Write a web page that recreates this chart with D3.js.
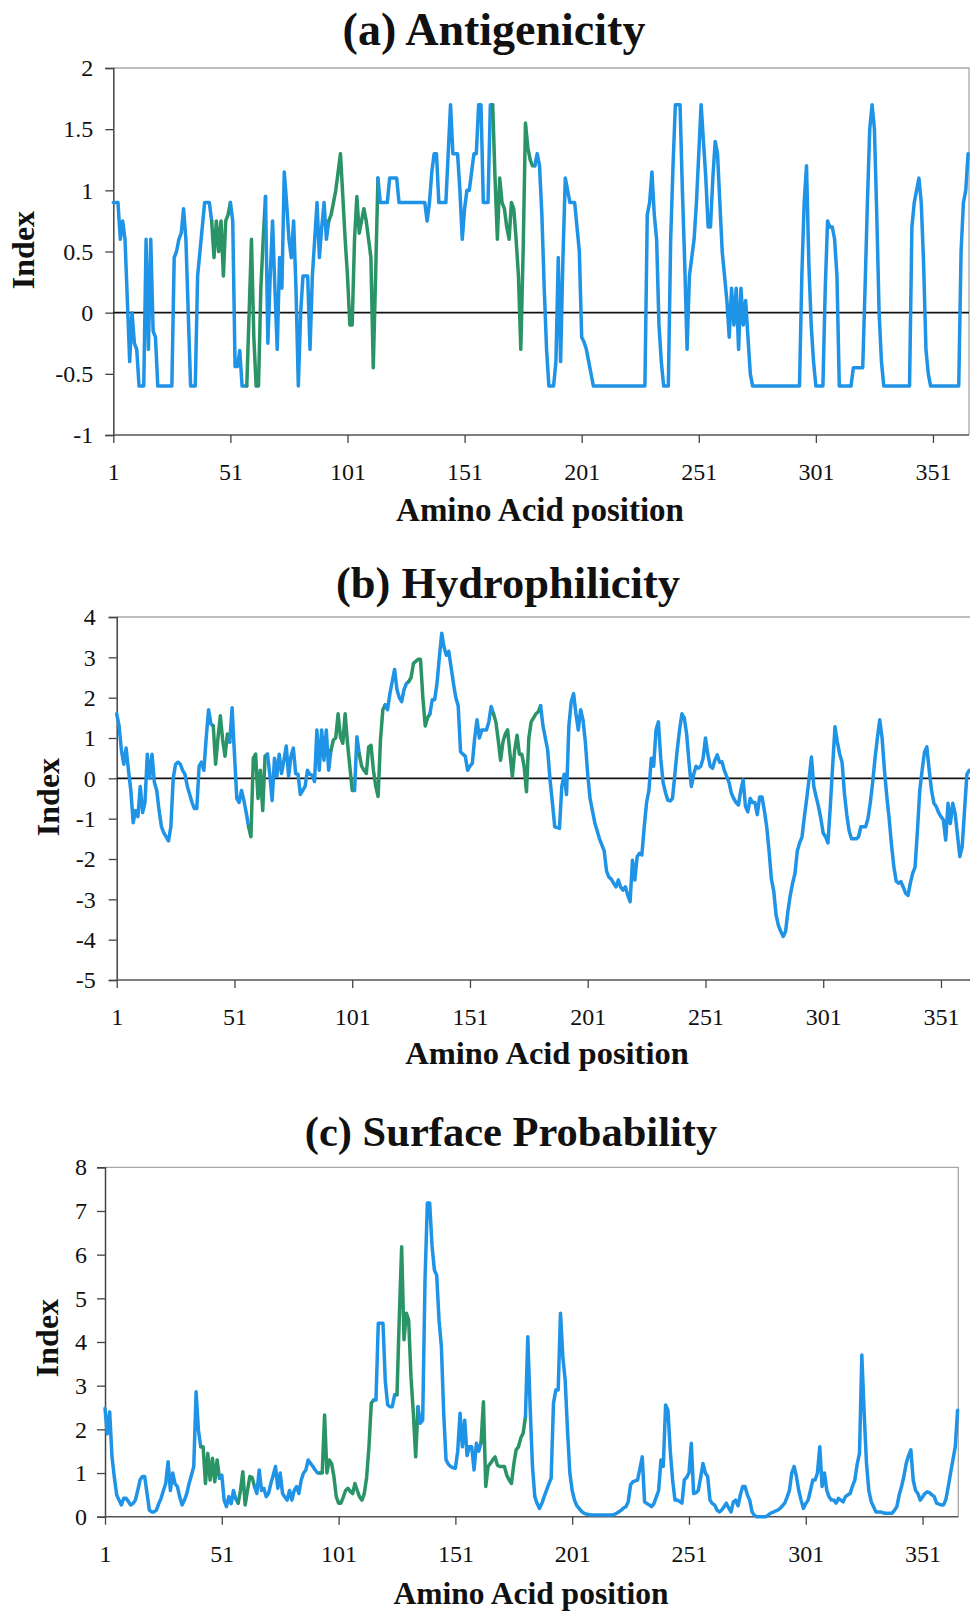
<!DOCTYPE html>
<html>
<head>
<meta charset="utf-8">
<script src="https://cdn.jsdelivr.net/npm/d3@7"></script>
<style>
  html, body { margin: 0; padding: 0; background: #fff; }
  svg { display: block; }
  text { font-family: "Liberation Serif", "Times New Roman", serif; fill: #111; }
</style>
</head>
<body>
<svg id="fig" width="970" height="1611"></svg>
<script>
// Tick values shared by the three profiles
const positionTicks = [1, 51, 101, 151, 201, 251, 301, 351];
const antigenicityTicks = [-1, -0.5, 0, 0.5, 1, 1.5, 2];
const hydrophilicityTicks = [-5, -4, -3, -2, -1, 0, 1, 2, 3, 4];
const surfaceTicks = [0, 1, 2, 3, 4, 5, 6, 7, 8];

// Antigenicity index, residues 1..366
const antigenicity = [
  0.9, 0.9, 0.9, 0.6, 0.75, 0.6, 0.1, -0.4, 0.0, -0.25,
  -0.3, -0.6, -0.6, -0.6, 0.6, -0.3, 0.6, -0.15, -0.2, -0.6,
  -0.6, -0.6, -0.6, -0.6, -0.6, -0.6, 0.45, 0.5, 0.6, 0.65,
  0.85, 0.6, 0.0, -0.6, -0.6, -0.6, 0.3, 0.5, 0.7, 0.9,
  0.9, 0.9, 0.75, 0.45, 0.75, 0.5, 0.75, 0.3, 0.75, 0.8,
  0.9, 0.75, -0.44, -0.44, -0.31, -0.6, -0.6, -0.6, 0.0, 0.6,
  -0.2, -0.6, -0.6, 0.2, 0.6, 0.95, -0.25, 0.3, 0.75, 0.2,
  -0.3, 0.45, 0.2, 1.15, 0.9, 0.6, 0.45, 0.75, 0.2, -0.6,
  0.0, 0.3, 0.3, 0.3, -0.3, 0.3, 0.6, 0.9, 0.45, 0.7,
  0.9, 0.6, 0.75, 0.8, 0.9, 1.0, 1.15, 1.3, 0.95, 0.6,
  0.3, -0.1, -0.1, 0.6, 0.95, 0.65, 0.75, 0.85, 0.75, 0.6,
  0.45, -0.45, 0.3, 1.1, 0.9, 0.9, 0.9, 0.9, 1.1, 1.1,
  1.1, 1.1, 0.9, 0.9, 0.9, 0.9, 0.9, 0.9, 0.9, 0.9,
  0.9, 0.9, 0.9, 0.9, 0.75, 0.9, 1.15, 1.3, 1.3, 0.9,
  0.9, 0.9, 0.9, 1.3, 1.7, 1.3, 1.3, 1.3, 1.0, 0.6,
  0.85, 1.0, 1.0, 1.15, 1.3, 1.3, 1.7, 1.7, 0.9, 0.9,
  0.9, 1.7, 1.7, 1.1, 0.6, 1.1, 0.9, 0.85, 0.7, 0.6,
  0.9, 0.85, 0.6, 0.3, -0.3, 0.5, 1.55, 1.35, 1.25, 1.2,
  1.2, 1.3, 1.2, 0.8, 0.2, -0.3, -0.6, -0.6, -0.6, -0.4,
  0.45, -0.4, 0.45, 1.1, 1.0, 0.9, 0.9, 0.9, 0.7, 0.5,
  -0.2, -0.24, -0.3, -0.4, -0.5, -0.6, -0.6, -0.6, -0.6, -0.6,
  -0.6, -0.6, -0.6, -0.6, -0.6, -0.6, -0.6, -0.6, -0.6, -0.6,
  -0.6, -0.6, -0.6, -0.6, -0.6, -0.6, -0.6, -0.6, 0.8, 0.9,
  1.15, 0.8, 0.6, -0.1, -0.4, -0.6, -0.6, -0.6, 0.6, 1.2,
  1.7, 1.7, 1.7, 1.0, 0.4, -0.3, 0.3, 0.45, 0.6, 0.9,
  1.3, 1.7, 1.4, 1.1, 0.7, 0.7, 1.1, 1.4, 1.3, 0.9,
  0.5, 0.3, 0.1, -0.2, 0.2, -0.1, 0.2, -0.3, 0.2, -0.1,
  0.1, -0.2, -0.5, -0.6, -0.6, -0.6, -0.6, -0.6, -0.6, -0.6,
  -0.6, -0.6, -0.6, -0.6, -0.6, -0.6, -0.6, -0.6, -0.6, -0.6,
  -0.6, -0.6, -0.6, -0.6, 0.3, 0.9, 1.2, 0.4, -0.1, -0.4,
  -0.6, -0.6, -0.6, -0.6, 0.2, 0.75, 0.7, 0.7, 0.6, 0.3,
  -0.6, -0.6, -0.6, -0.6, -0.6, -0.6, -0.45, -0.45, -0.45, -0.45,
  -0.45, 0.2, 0.9, 1.5, 1.7, 1.5, 0.8, 0.0, -0.4, -0.6,
  -0.6, -0.6, -0.6, -0.6, -0.6, -0.6, -0.6, -0.6, -0.6, -0.6,
  -0.6, 0.7, 0.9, 1.0, 1.1, 0.9, 0.4, -0.3, -0.5, -0.6,
  -0.6, -0.6, -0.6, -0.6, -0.6, -0.6, -0.6, -0.6, -0.6, -0.6,
  -0.6, -0.6, 0.5, 0.9, 1.0, 1.3
];
const antigenicityEpitopes = [[43, 51], [58, 66], [93, 114], [163, 181]];

// Hydrophilicity index, residues 1..363
const hydrophilicity = [
  1.6, 1.3, 0.7, 0.35, 0.75, 0.2, -0.3, -1.1, -0.8, -0.95,
  -0.2, -0.85, -0.6, 0.6, 0.0, 0.6, -0.1, -0.3, -0.8, -1.2,
  -1.35, -1.45, -1.55, -1.2, 0.0, 0.35, 0.4, 0.35, 0.2, 0.1,
  -0.2, -0.4, -0.6, -0.75, -0.75, 0.3, 0.4, 0.2, 1.0, 1.7,
  1.35, 1.3, 0.35, 1.0, 1.55, 0.95, 0.55, 1.1, 0.9, 1.75,
  0.6, -0.5, -0.6, -0.3, -0.55, -0.85, -1.2, -1.45, 0.5, 0.6,
  -0.5, 0.2, -0.8, 0.55, 0.6, 0.1, -0.55, 0.5, 0.05, 0.6,
  0.12, 0.45, 0.8, 0.05, 0.55, 0.75, 0.12, 0.1, -0.4, -0.3,
  -0.2, 0.2, 0.1, 0.08, -0.08, 1.2, 0.2, 1.2, 0.45, 1.2,
  0.2, 0.7, 0.95, 1.0, 1.6, 1.03, 0.87, 1.6, 0.87, 0.29,
  -0.3, -0.3, 1.03, 0.6, 0.3, 0.2, 0.12, 0.78, 0.82, 0.2,
  -0.2, -0.45, 0.95, 1.7, 1.82, 1.7, 2.1, 2.4, 2.7, 2.2,
  2.0, 1.9, 2.2, 2.35, 2.4, 2.5, 2.85, 2.9, 2.95, 2.95,
  2.0, 1.3, 1.5, 1.6, 1.95, 1.95, 2.35, 3.0, 3.6, 3.25,
  3.05, 3.15, 2.75, 2.35, 2.0, 1.8, 0.66, 0.6, 0.55, 0.2,
  0.3, 0.37, 1.0, 1.45, 1.0, 1.2, 1.2, 1.2, 1.4, 1.78,
  1.6, 1.4, 0.95, 0.45, 0.9, 1.1, 1.2, 0.6, 0.04, 0.7,
  1.07, 0.6, 0.6, 0.3, -0.33, 1.0, 1.4, 1.5, 1.6, 1.65,
  1.8, 1.3, 1.0, 0.7, -0.04, -0.6, -1.2, -1.22, -1.24, -0.2,
  0.1, -0.4, 1.3, 1.9, 2.1, 1.6, 1.2, 1.7, 1.45, 0.9,
  0.1, -0.5, -0.8, -1.1, -1.3, -1.5, -1.65, -1.8, -2.3, -2.45,
  -2.5, -2.6, -2.69, -2.52, -2.7, -2.77, -2.69, -2.9, -3.06, -2.03,
  -2.52, -1.94, -1.86, -1.9, -1.2, -0.6, -0.3, 0.5, 0.3, 1.2,
  1.4, 0.5, -0.1, -0.35, -0.54, -0.56, -0.5, 0.1, 0.7, 1.2,
  1.6, 1.5, 1.1, 0.4, -0.2, 0.1, 0.3, 0.25, 0.3, 0.5,
  1.0, 0.6, 0.3, 0.25, 0.45, 0.58, 0.4, 0.41, 0.2, 0.05,
  -0.1, -0.37, -0.5, -0.6, -0.66, -0.3, -0.04, -0.7, -0.83, -0.5,
  -0.6, -0.6, -0.9, -0.46, -0.46, -0.8, -1.2, -1.8, -2.5, -2.8,
  -3.4, -3.65, -3.8, -3.92, -3.8, -3.3, -2.9, -2.6, -2.36, -1.8,
  -1.6, -1.45, -0.95, -0.5, 0.0, 0.53, -0.2, -0.46, -0.7, -1.0,
  -1.36, -1.45, -1.6, -0.7, 0.3, 1.28, 0.9, 0.6, 0.4, -0.37,
  -0.9, -1.3, -1.5, -1.5, -1.5, -1.45, -1.2, -1.2, -1.2, -1.0,
  -0.6, -0.1, 0.5, 1.0, 1.45, 1.0, 0.2, -0.45, -1.0, -1.65,
  -2.2, -2.55, -2.6, -2.56, -2.7, -2.85, -2.9, -2.6, -2.35, -2.2,
  -1.3, -0.3, 0.2, 0.65, 0.78, 0.2, -0.3, -0.62, -0.7, -0.85,
  -0.95, -1.03, -1.53, -0.62, -1.12, -0.62, -0.87, -1.4, -1.94, -1.7,
  -0.8, 0.1, 0.2
];
const hydrophilicityEpitopes = [[42, 49], [57, 65], [92, 102], [104, 115], [125, 134], [161, 181]];

// Surface probability index, residues 1..366
const surface = [
  2.48, 1.9, 2.4, 1.37, 0.9, 0.5, 0.38, 0.27, 0.42, 0.42,
  0.35, 0.27, 0.3, 0.38, 0.6, 0.84, 0.92, 0.92, 0.53, 0.15,
  0.11, 0.11, 0.15, 0.3, 0.42, 0.6, 0.76, 1.26, 0.6, 1.0,
  0.75, 0.69, 0.45, 0.27, 0.38, 0.53, 0.76, 0.95, 1.15, 2.86,
  1.98, 1.6, 1.6, 0.76, 1.45, 0.84, 1.34, 0.8, 1.3, 0.88,
  0.95, 0.38, 0.23, 0.46, 0.3, 0.6, 0.4, 0.31, 0.6, 1.03,
  0.27, 0.6, 0.92, 0.9, 0.69, 0.53, 1.07, 0.6, 0.65, 0.46,
  0.53, 0.76, 0.95, 1.15, 0.65, 1.0, 0.53, 0.45, 0.38, 0.6,
  0.38, 0.6, 0.69, 0.53, 0.84, 1.0, 1.07, 1.3, 1.22, 1.15,
  1.07, 1.0, 1.0, 1.0, 2.33, 1.0, 1.3, 1.22, 0.92, 0.46,
  0.31, 0.31, 0.45, 0.6, 0.65, 0.58, 0.53, 0.76, 0.6, 0.45,
  0.38, 0.53, 0.9, 1.6, 2.6, 2.67, 2.67, 4.43, 4.43, 4.43,
  3.1, 2.56, 2.52, 2.52, 2.79, 2.79, 4.58, 6.18, 4.05, 4.66,
  4.5, 3.2, 2.37, 1.37, 2.52, 2.14, 2.21, 5.42, 7.18, 7.18,
  6.2, 5.65, 5.53, 4.5, 3.9, 2.37, 1.3, 1.2, 1.15, 1.12,
  1.11, 1.5, 2.37, 1.6, 2.21, 1.4, 1.6, 1.6, 1.07, 1.68,
  1.5, 1.7, 2.63, 0.69, 1.15, 1.22, 1.3, 1.37, 1.18, 1.15,
  1.15, 1.15, 0.95, 0.84, 0.76, 1.2, 1.53, 1.6, 1.8, 1.91,
  2.29, 4.12, 2.52, 1.15, 0.46, 0.3, 0.19, 0.3, 0.46, 0.6,
  0.75, 0.88, 2.6, 2.9, 2.9, 4.66, 3.66, 3.13, 1.98, 1.0,
  0.6, 0.38, 0.25, 0.19, 0.12, 0.08, 0.06, 0.05, 0.04, 0.04,
  0.04, 0.04, 0.04, 0.04, 0.04, 0.04, 0.04, 0.04, 0.05, 0.08,
  0.11, 0.15, 0.2, 0.23, 0.34, 0.73, 0.8, 0.82, 0.84, 1.1,
  1.37, 0.34, 0.3, 0.27, 0.23, 0.3, 0.45, 0.6, 1.3, 1.15,
  2.56, 2.44, 1.5, 0.84, 0.38, 0.38, 0.35, 0.31, 0.84, 0.9,
  1.0, 1.68, 0.53, 0.55, 0.6, 0.9, 1.22, 1.0, 0.92, 0.38,
  0.3, 0.27, 0.15, 0.11, 0.15, 0.23, 0.31, 0.2, 0.11, 0.34,
  0.38, 0.25, 0.5, 0.69, 0.69, 0.5, 0.38, 0.11, 0.03, 0.0,
  0.0, 0.0, 0.0, 0.0, 0.04, 0.08, 0.1, 0.13, 0.15, 0.19,
  0.25, 0.31, 0.45, 0.6, 1.0, 1.15, 0.92, 0.6, 0.38, 0.19,
  0.3, 0.38, 0.6, 0.84, 0.84, 1.0, 1.6, 0.69, 1.0, 0.6,
  0.45, 0.38, 0.38, 0.31, 0.42, 0.38, 0.34, 0.46, 0.5, 0.53,
  0.7, 0.84, 1.2, 1.45, 3.7, 2.37, 1.22, 0.6, 0.35, 0.23,
  0.11, 0.11, 0.11, 0.09, 0.08, 0.08, 0.08, 0.08, 0.15, 0.23,
  0.5, 0.69, 0.92, 1.22, 1.4, 1.53, 0.84, 0.6, 0.53, 0.38,
  0.45, 0.53, 0.57, 0.55, 0.5, 0.46, 0.31, 0.29, 0.27, 0.27,
  0.4, 0.69, 1.0, 1.3, 1.6, 2.44
];
const surfaceEpitopes = [[42, 50], [58, 65], [93, 116], [126, 135], [162, 181]];

const BLUE = "#1f93e6";
const GREEN = "#2b9466";

const panels = [
  {
    title: "(a) Antigenicity", values: antigenicity, epitopes: antigenicityEpitopes,
    yTicks: antigenicityTicks, yDomain: [-1, 2], zeroLine: true,
    left: 113.3, lastX: 968.1, frameRight: 969, top: 68, bottom: 435,
    titleX: 494, titleY: 45, titleSize: 46, labelGap: 20, indexX: 23, indexY: 250,
    xTitleX: 540, xTitleY: 521, xTitleSize: 33
  },
  {
    title: "(b) Hydrophilicity", values: hydrophilicity, epitopes: hydrophilicityEpitopes,
    yTicks: hydrophilicityTicks, yDomain: [-5, 4], zeroLine: true,
    left: 116.7, lastX: 976.3, frameRight: 976, top: 617, bottom: 980,
    titleX: 508, titleY: 598, titleSize: 44.5, labelGap: 21, indexX: 48, indexY: 797,
    xTitleX: 547, xTitleY: 1064, xTitleSize: 32.5
  },
  {
    title: "(c) Surface Probability", values: surface, epitopes: surfaceEpitopes,
    yTicks: surfaceTicks, yDomain: [0, 8], zeroLine: false,
    left: 105, lastX: 957.6, frameRight: 958.3, top: 1167.3, bottom: 1516.7,
    titleX: 511, titleY: 1146, titleSize: 42.5, labelGap: 18, indexX: 47, indexY: 1338,
    xTitleX: 531, xTitleY: 1604, xTitleSize: 31.5
  }
];

const svg = d3.select("#fig");

panels.forEach(p => {
  const g = svg.append("g");
  const x = d3.scaleLinear().domain([1, 366]).range([p.left, p.lastX]);
  const y = d3.scaleLinear().domain(p.yDomain).range([p.bottom, p.top]);

  // plot frame: light top/right edges
  g.append("path")
    .attr("d", `M${p.left},${p.top}H${p.frameRight}V${p.bottom}`)
    .attr("fill", "none").attr("stroke", "#a8a8a8").attr("stroke-width", 1.3);

  // value axis
  const yAxis = d3.axisLeft(y).tickValues(p.yTicks).tickSize(8).tickPadding(p.labelGap - 8)
    .tickFormat(d => String(d));
  const ya = g.append("g").attr("transform", `translate(${p.left},0)`).call(yAxis);
  ya.select(".domain").attr("stroke", "#444").attr("stroke-width", 1.5);
  ya.selectAll(".tick line").attr("stroke", "#444").attr("stroke-width", 1.3);
  ya.selectAll(".tick text").attr("font-size", 24).attr("fill", "#1a1a1a")
    .attr("font-family", "Liberation Serif, serif");

  // position axis along the bottom of the plot
  const xAxis = d3.axisBottom(x).tickValues(positionTicks).tickSize(8).tickPadding(20)
    .tickSizeOuter(0).tickFormat(d => String(d));
  const xa = g.append("g").attr("transform", `translate(0,${p.bottom})`).call(xAxis);
  xa.select(".domain").attr("d", `M${p.left},0H${p.frameRight}`)
    .attr("stroke", "#555").attr("stroke-width", 1.5);
  xa.selectAll(".tick line").attr("stroke", "#444").attr("stroke-width", 1.3);
  xa.selectAll(".tick text").attr("font-size", 24).attr("fill", "#1a1a1a")
    .attr("font-family", "Liberation Serif, serif");

  if (p.zeroLine) {
    g.append("line")
      .attr("x1", p.left).attr("x2", p.frameRight)
      .attr("y1", y(0)).attr("y2", y(0))
      .attr("stroke", "#111").attr("stroke-width", 1.6);
  }

  // profile line, split into runs coloured by epitope membership
  const inEpitope = pos => p.epitopes.some(([a, b]) => pos >= a && pos <= b);
  const pts = p.values.map((v, i) => ({ pos: i + 1, v }));
  const runs = [];
  let cur = null;
  for (let i = 0; i < pts.length - 1; i++) {
    const green = inEpitope(pts[i].pos) && inEpitope(pts[i + 1].pos);
    if (!cur || cur.green !== green) {
      cur = { green, pts: [pts[i]] };
      runs.push(cur);
    }
    cur.pts.push(pts[i + 1]);
  }
  const line = d3.line().x(d => x(d.pos)).y(d => y(d.v));
  runs.forEach(r => {
    g.append("path")
      .attr("d", line(r.pts))
      .attr("fill", "none")
      .attr("stroke", r.green ? GREEN : BLUE)
      .attr("stroke-width", 3.5)
      .attr("stroke-linejoin", "round")
      .attr("stroke-linecap", "round");
  });

  // titles
  g.append("text")
    .attr("x", p.titleX).attr("y", p.titleY)
    .attr("text-anchor", "middle")
    .attr("font-size", p.titleSize).attr("font-weight", "bold")
    .text(p.title);

  g.append("text")
    .attr("transform", `translate(${p.indexX},${p.indexY}) rotate(-90)`)
    .attr("text-anchor", "middle").attr("dy", "0.35em")
    .attr("font-size", 32).attr("font-weight", "bold")
    .text("Index");

  g.append("text")
    .attr("x", p.xTitleX).attr("y", p.xTitleY)
    .attr("text-anchor", "middle")
    .attr("font-size", p.xTitleSize).attr("font-weight", "bold")
    .text("Amino Acid position");
});
</script>
</body>
</html>
